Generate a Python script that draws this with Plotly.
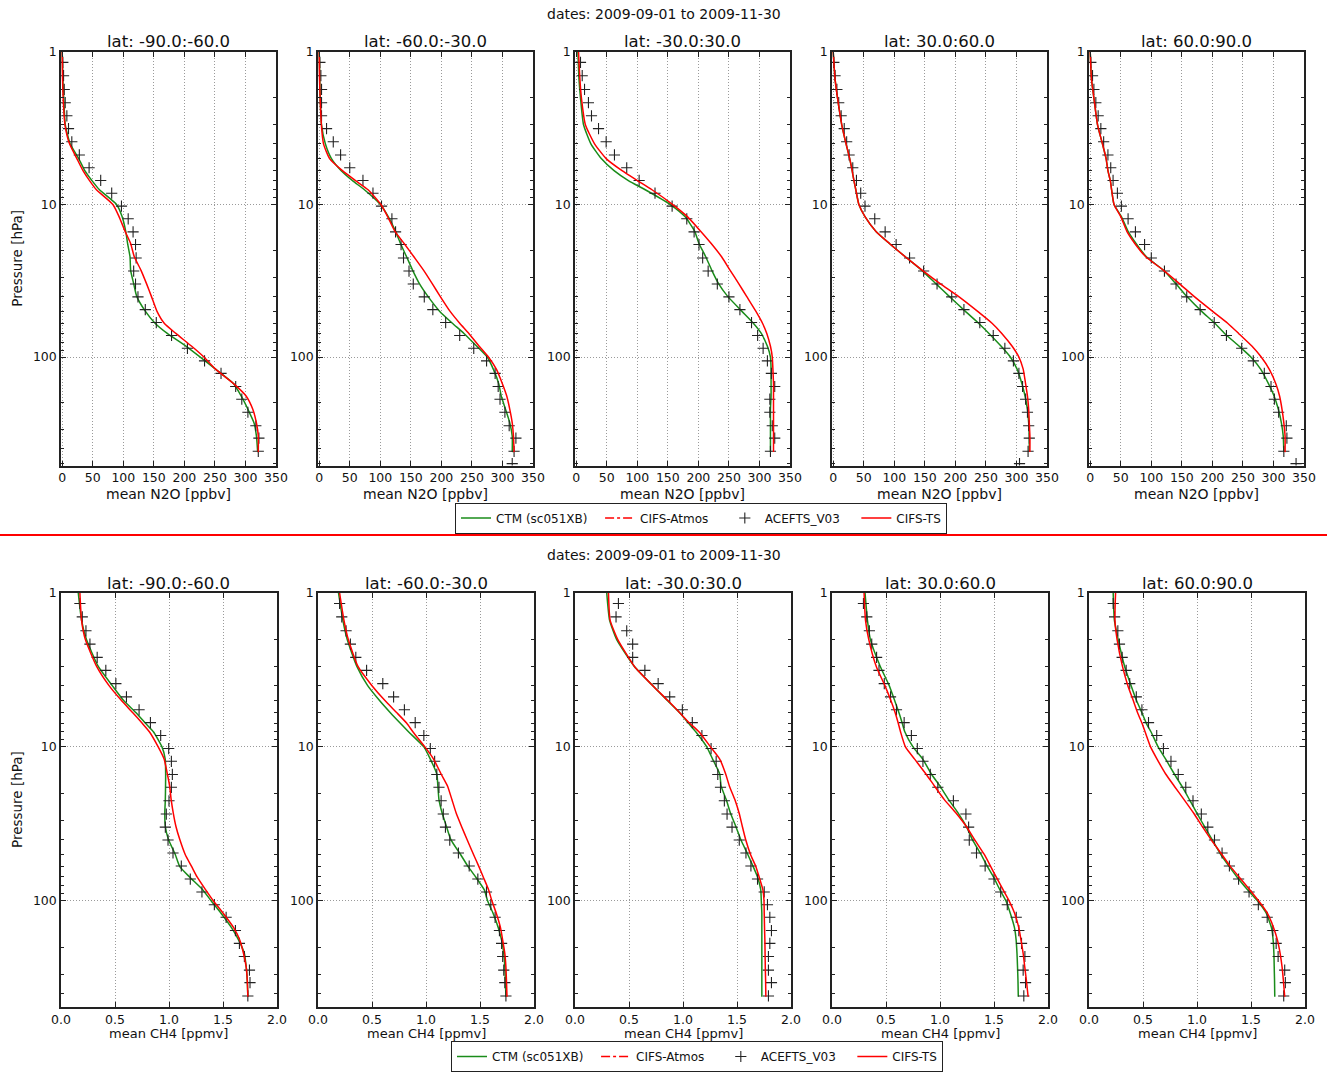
import plotly.graph_objects as go

W, H = 1327, 1072

# ---------------- data ----------------
P_MODEL = [1, 1.5, 2, 3, 4, 5, 6, 7, 8, 10, 12, 15, 18, 22, 27, 33, 40, 50, 60, 70,
           85, 100, 120, 150, 180, 220, 270, 330, 420]
P_ACE = [1.17, 1.43, 1.76, 2.15, 2.62, 3.18, 3.88, 4.73, 5.74, 6.95, 8.43, 10.25, 12.4,
         15.1, 18.3, 22.4, 27.3, 33.2, 40.3, 48.9, 59.4, 72.2, 87.6, 106, 128, 156, 189,
         230, 282, 340, 415, 500]

LAT_LABELS = ["lat: -90.0:-60.0", "lat: -60.0:-30.0", "lat: -30.0:30.0",
              "lat: 30.0:60.0", "lat: 60.0:90.0"]
DATES_TITLE = "dates: 2009-09-01 to 2009-11-30"
N2O_TICKS = [0, 50, 100, 150, 200, 250, 300, 350]
CH4_TICKS = [0.0, 0.5, 1.0, 1.5, 2.0]
P_TICKS = [1, 10, 100]

# N2O [ppbv]
N2O_CTM = [
    [0, 1, 2.5, 5, 13, 27, 37, 49, 61, 89, 98, 104, 107, 111, 112, 117, 122, 136, 152, 172, 203, 226, 251, 281, 293, 304, 314, 318, 320],
    [0, 1, 1.6, 3.8, 10, 20, 36, 55, 74, 100, 113, 125, 133, 143, 153, 164, 178, 197, 218, 237, 258, 275, 285, 294, 298, 305, 312, 316, 316],
    [2.7, 4.5, 7, 12, 24, 41, 62, 86, 113, 154, 178, 194, 201, 212, 222, 233, 248, 271, 290, 303, 313, 318, 319, 319, 319, 318, 318, 318, 318],
    [0, 3, 7, 14, 21, 27, 31, 34, 37, 42, 52, 70, 92, 118, 145, 168, 190, 216, 238, 255, 275, 290, 301, 309, 314, 318, 320, 321, 321],
    [0, 2, 6, 12, 20, 26, 29, 33, 35, 39, 51, 62, 75, 92, 120, 140, 158, 182, 204, 220, 244, 263, 279, 292, 301, 308, 313, 316, 317],
]
N2O_TS = [
    [0, 0.5, 1.5, 4.5, 12, 24, 34, 45, 56, 83, 93, 103, 112, 118, 129, 138, 146, 155, 167, 186, 212, 232, 251, 281, 301, 312, 318, 321, 321],
    [0, 0.5, 1.5, 3.5, 7, 17, 38, 60, 80, 101, 112, 124, 139, 155, 171, 185, 198, 214, 230, 245, 262, 277, 290, 300, 307, 312, 316, 318, 319],
    [3.8, 6, 8.5, 15, 30, 49, 75, 101, 124, 158, 182, 204, 221, 238, 252, 266, 279, 294, 305, 312, 318, 321, 322, 323, 323, 323, 323, 323, 323],
    [0, 3, 7, 14, 21, 27, 31, 34, 37, 42, 52, 70, 92, 118, 146, 175, 205, 236, 260, 276, 293, 304, 311, 315, 318, 320, 321, 322, 322],
    [0, 2, 6, 12, 20, 26, 29, 33, 35, 39, 50, 60, 73, 91, 120, 146, 170, 200, 225, 243, 265, 280, 293, 304, 310, 314, 317, 319, 319],
]
N2O_ACE = [
    [1, 2.2, 3.3, 4.9, 7.6, 10.3, 15.7, 28, 44, 63, 81, 97, 108, 116, 120, 121, 117, 120, 124, 136, 154, 179, 205, 233, 260, 284, 294, 304, 317, 322, 321, None],
    [1.1, 2.7, 3.8, 3.8, 3.8, 12, 23, 35, 50, 71.6, 88, 102, 119, 125, 134, 138, 147, 154, 172, 186, 207, 230, 253, 274, 288, 293, 296, 304, 311, 322, 319, 316],
    [7, 9.8, 13.6, 20, 25, 36.5, 49, 62.6, 82.7, 103, 129, 157, 181, 193, 201, 207, 216, 231, 250, 268, 287, 297, 306, 313, 319.5, 325, 317, 317, 321, 325, 318, None],
    [1, 3, 6, 9, 13, 18, 22, 26, 32, 38, 45, 52, 68, 85, 103, 125, 148, 170, 194, 214, 240, 262, 281, 295, 304, 310, 315, 318, 320, 321, 319, 305],
    [1, 3.8, 6, 9.2, 13, 17.4, 22, 29, 33.6, 37.4, 44.5, 51, 62, 74, 89, 100, 121.5, 140.5, 158, 180, 203, 223, 248, 267, 285, 296, 301.5, 308.5, 321, 322, 317, 337],
]

# CH4 [ppmv]
CH4_CTM = [
    [0.16, 0.19, 0.235, 0.345, 0.475, 0.58, 0.695, 0.78, 0.857, 0.935, 0.965, 0.969, 0.968, 0.966, 0.961, 0.966, 0.995, 1.058, 1.1, 1.19, 1.314, 1.39, 1.48, 1.58, 1.645, 1.698, 1.715, 1.725, 1.73],
    [0.19, 0.23, 0.27, 0.36, 0.46, 0.57, 0.67, 0.76, 0.84, 0.98, 1.04, 1.1, 1.11, 1.12, 1.15, 1.19, 1.23, 1.32, 1.39, 1.46, 1.54, 1.57, 1.62, 1.67, 1.7, 1.72, 1.73, 1.735, 1.74],
    [0.294, 0.32, 0.385, 0.55, 0.72, 0.855, 0.969, 1.05, 1.12, 1.22, 1.274, 1.34, 1.353, 1.4, 1.44, 1.49, 1.535, 1.6, 1.65, 1.69, 1.72, 1.725, 1.73, 1.73, 1.73, 1.73, 1.73, 1.73, 1.73],
    [0.306, 0.328, 0.355, 0.447, 0.53, 0.58, 0.62, 0.65, 0.675, 0.75, 0.84, 0.92, 1.0, 1.08, 1.17, 1.245, 1.3, 1.38, 1.44, 1.495, 1.555, 1.61, 1.65, 1.69, 1.705, 1.713, 1.718, 1.722, 1.725],
    [0.224, 0.235, 0.27, 0.33, 0.39, 0.44, 0.49, 0.53, 0.575, 0.64, 0.71, 0.79, 0.86, 0.93, 1.0, 1.07, 1.14, 1.22, 1.3, 1.37, 1.47, 1.56, 1.64, 1.69, 1.705, 1.712, 1.715, 1.718, 1.72],
]
CH4_TS = [
    [0.175, 0.19, 0.225, 0.33, 0.445, 0.56, 0.665, 0.75, 0.82, 0.9, 0.955, 0.985, 1.006, 1.02, 1.04, 1.065, 1.1, 1.15, 1.21, 1.26, 1.34, 1.41, 1.5, 1.6, 1.655, 1.69, 1.715, 1.725, 1.73],
    [0.2, 0.24, 0.28, 0.37, 0.5, 0.62, 0.73, 0.82, 0.88, 0.99, 1.07, 1.14, 1.2, 1.24, 1.28, 1.33, 1.38, 1.44, 1.49, 1.53, 1.58, 1.61, 1.65, 1.69, 1.71, 1.73, 1.74, 1.745, 1.75],
    [0.31, 0.325, 0.395, 0.55, 0.72, 0.86, 0.97, 1.06, 1.15, 1.255, 1.34, 1.395, 1.43, 1.48, 1.52, 1.55, 1.58, 1.625, 1.675, 1.705, 1.74, 1.75, 1.752, 1.755, 1.758, 1.76, 1.762, 1.765, 1.767],
    [0.297, 0.31, 0.34, 0.41, 0.49, 0.545, 0.585, 0.613, 0.635, 0.68, 0.765, 0.87, 0.95, 1.04, 1.15, 1.245, 1.32, 1.41, 1.47, 1.52, 1.585, 1.64, 1.69, 1.73, 1.75, 1.77, 1.785, 1.8, 1.816],
    [0.246, 0.24, 0.26, 0.31, 0.36, 0.41, 0.45, 0.49, 0.52, 0.57, 0.63, 0.71, 0.79, 0.88, 0.97, 1.05, 1.13, 1.23, 1.31, 1.39, 1.49, 1.57, 1.65, 1.71, 1.745, 1.77, 1.788, 1.8, 1.812],
]
CH4_ACE = [
    [0.175, 0.197, 0.231, 0.268, 0.335, 0.415, 0.508, 0.606, 0.723, 0.828, 0.923, 0.997, 1.022, 1.031, 1.022, 1.0, 0.975, 0.966, 0.991, 1.037, 1.114, 1.197, 1.305, 1.42, 1.529, 1.615, 1.652, 1.698, 1.745, 1.75, 1.73, None],
    [0.2, 0.22, 0.26, 0.3, 0.35, 0.45, 0.6, 0.7, 0.8, 0.9, 0.98, 1.04, 1.08, 1.1, 1.12, 1.14, 1.16, 1.18, 1.22, 1.3, 1.4, 1.48, 1.56, 1.6, 1.64, 1.68, 1.7, 1.71, 1.72, 1.73, 1.74, None],
    [0.402, 0.38, 0.479, 0.534, 0.534, 0.647, 0.77, 0.877, 0.994, 1.086, 1.175, 1.26, 1.307, 1.322, 1.347, 1.383, 1.408, 1.454, 1.521, 1.583, 1.629, 1.69, 1.752, 1.782, 1.804, 1.819, 1.804, 1.791, 1.791, 1.819, 1.791, None],
    [0.291, 0.322, 0.346, 0.368, 0.413, 0.435, 0.484, 0.542, 0.597, 0.668, 0.735, 0.79, 0.842, 0.91, 0.98, 1.124, 1.24, 1.265, 1.271, 1.338, 1.418, 1.5, 1.562, 1.623, 1.706, 1.73, 1.755, 1.786, 1.77, 1.792, 1.776, None],
    [0.224, 0.237, 0.267, 0.282, 0.307, 0.344, 0.377, 0.438, 0.49, 0.551, 0.627, 0.689, 0.759, 0.826, 0.896, 0.963, 1.04, 1.1, 1.162, 1.232, 1.3, 1.385, 1.482, 1.568, 1.65, 1.702, 1.733, 1.751, 1.812, 1.818, 1.803, None],
]

NBSP = "\u00a0"
SERIES_NAMES = ["CTM (sc051XB)", "CIFS-Atmos", "ACEFTS_V03", "CIFS-TS"]
LEGEND_PAD = [2, 3, 3, 0]

# ---------------- style / layout ----------------
FONT = "DejaVu Sans"
GREEN = "#1a8c1a"
RED = "#ff0000"
FRAME = "#222222"
GRID = "#9a9a9a"

LEFTS = [61, 318, 575, 832, 1089]
PW = 215
ROWS = [
    dict(top=52, bot=465.5, yr=[2.711, 0], xr=[-2, 350], ticks=N2O_TICKS,
         ticktext=[str(t) for t in N2O_TICKS], xtitle="mean N2O [ppbv]",
         ctm=N2O_CTM, ts=N2O_TS, ace=N2O_ACE, legend="legend", dates_y=14,
         title_y=41, xtitle_y=494, xtitle_size=14,
         legend_y=518, legend_x=701, leg_anchor="middle"),
    dict(top=593, bot=1007, yr=[2.69, 0], xr=[0, 2.0], ticks=CH4_TICKS,
         ticktext=["%.1f" % t for t in CH4_TICKS], xtitle="mean CH4 [ppmv]",
         ctm=CH4_CTM, ts=CH4_TS, ace=CH4_ACE, legend="legend2", dates_y=555,
         title_y=583, xtitle_y=1033, xtitle_size=13,
         legend_y=1072, legend_x=697, leg_anchor="bottom"),
]


def legend_name(i):
    return SERIES_NAMES[i] + NBSP * LEGEND_PAD[i]


fig = go.Figure()
annotations = []
minor_p = [2, 3, 4, 5, 6, 7, 8, 9, 20, 30, 40, 50, 60, 70, 80, 90, 200, 300, 400, 500]

for r, row in enumerate(ROWS):
    for c in range(5):
        k = r * 5 + c + 1
        xa = "x" if k == 1 else "x%d" % k
        ya = "y" if k == 1 else "y%d" % k
        first = (c == 0)
        fig.add_trace(go.Scatter(
            x=row["ctm"][c], y=P_MODEL, xaxis=xa, yaxis=ya, mode="lines",
            line=dict(color=GREEN, width=1.5, shape="spline", smoothing=0.5),
            name=legend_name(0), legend=row["legend"], showlegend=first))
        if first:
            fig.add_trace(go.Scatter(
                x=[None], y=[None], xaxis=xa, yaxis=ya, mode="lines",
                line=dict(color=RED, width=1.5, dash="dashdot"),
                name=legend_name(1), legend=row["legend"], showlegend=True))
        fig.add_trace(go.Scatter(
            x=row["ace"][c], y=P_ACE, xaxis=xa, yaxis=ya, mode="markers",
            marker=dict(symbol="cross-thin", size=8, color="#222",
                        line=dict(width=1.1, color="#222")),
            name=legend_name(2), legend=row["legend"], showlegend=first))
        fig.add_trace(go.Scatter(
            x=row["ts"][c], y=P_MODEL, xaxis=xa, yaxis=ya, mode="lines",
            line=dict(color=RED, width=1.5, shape="spline", smoothing=0.5),
            name=legend_name(3), legend=row["legend"], showlegend=first))

        l = LEFTS[c]
        rr = l + PW + (1 if r == 1 else 0)
        xkey = "xaxis" if k == 1 else "xaxis%d" % k
        ykey = "yaxis" if k == 1 else "yaxis%d" % k
        fig.layout[xkey] = dict(
            domain=[l / W, rr / W], anchor=ya, range=row["xr"], automargin=False,
            tickmode="array", tickvals=row["ticks"], ticktext=row["ticktext"],
            ticks="inside", ticklen=5, tickwidth=1, tickcolor=FRAME,
            showline=True, linecolor=FRAME, linewidth=1.5, mirror="allticks",
            showgrid=True, gridcolor=GRID, griddash="1px,2px", gridwidth=1,
            zeroline=False, tickfont=dict(family=FONT, size=12.5, color="#111"))
        fig.layout[ykey] = dict(
            domain=[1 - row["bot"] / H, 1 - row["top"] / H], anchor=xa,
            type="log", range=row["yr"], automargin=False,
            tickmode="array", tickvals=P_TICKS, ticktext=[str(t) for t in P_TICKS],
            ticks="inside", ticklen=5, tickwidth=1, tickcolor=FRAME,
            minor=dict(tickmode="array", tickvals=minor_p, ticks="inside",
                       ticklen=3, tickcolor=FRAME, showgrid=False),
            showline=True, linecolor=FRAME, linewidth=1.5, mirror="allticks",
            showgrid=True, gridcolor=GRID, griddash="1px,2px", gridwidth=1,
            zeroline=False, tickfont=dict(family=FONT, size=12.5, color="#111"))

        cx = (l + rr) / 2 / W
        annotations.append(dict(text=LAT_LABELS[c], x=cx, y=1 - row["title_y"] / H,
                                xref="paper", yref="paper", showarrow=False,
                                xanchor="center", yanchor="middle",
                                font=dict(family=FONT, size=16.5, color="#111")))
        annotations.append(dict(text=row["xtitle"], x=cx, y=1 - row["xtitle_y"] / H,
                                xref="paper", yref="paper", showarrow=False,
                                xanchor="center", yanchor="middle",
                                font=dict(family=FONT, size=row["xtitle_size"],
                                          color="#111")))
    annotations.append(dict(text=DATES_TITLE, x=664 / W, y=1 - row["dates_y"] / H,
                            xref="paper", yref="paper", showarrow=False,
                            xanchor="center", yanchor="middle",
                            font=dict(family=FONT, size=14, color="#111")))
    annotations.append(dict(text="Pressure [hPa]", x=17 / W,
                            y=1 - (row["top"] + row["bot"]) / 2 / H,
                            xref="paper", yref="paper", showarrow=False, textangle=-90,
                            xanchor="center", yanchor="middle",
                            font=dict(family=FONT, size=13.5, color="#111")))

legend_common = dict(orientation="h", xanchor="center",
                     bordercolor="#222", borderwidth=1, bgcolor="white",
                     font=dict(family=FONT, size=12, color="#111"), itemwidth=30,
                     traceorder="normal")
fig.update_layout(
    width=W, height=H, margin=dict(l=0, r=0, t=0, b=0, autoexpand=False),
    paper_bgcolor="white", plot_bgcolor="white",
    annotations=annotations,
    legend=dict(x=ROWS[0]["legend_x"] / W, y=1 - ROWS[0]["legend_y"] / H,
                yanchor=ROWS[0]["leg_anchor"], **legend_common),
    legend2=dict(x=ROWS[1]["legend_x"] / W, y=1 - ROWS[1]["legend_y"] / H,
                 yanchor=ROWS[1]["leg_anchor"], **legend_common),
    shapes=[dict(type="line", xref="paper", yref="paper", x0=0, x1=1,
                 y0=1 - 535 / H, y1=1 - 535 / H, line=dict(color=RED, width=2))],
)

fig.write_html("out.html",
               config={"displayModeBar": False},
               post_script="document.body.style.margin='0px';"
                           "document.body.style.overflow='hidden';")
